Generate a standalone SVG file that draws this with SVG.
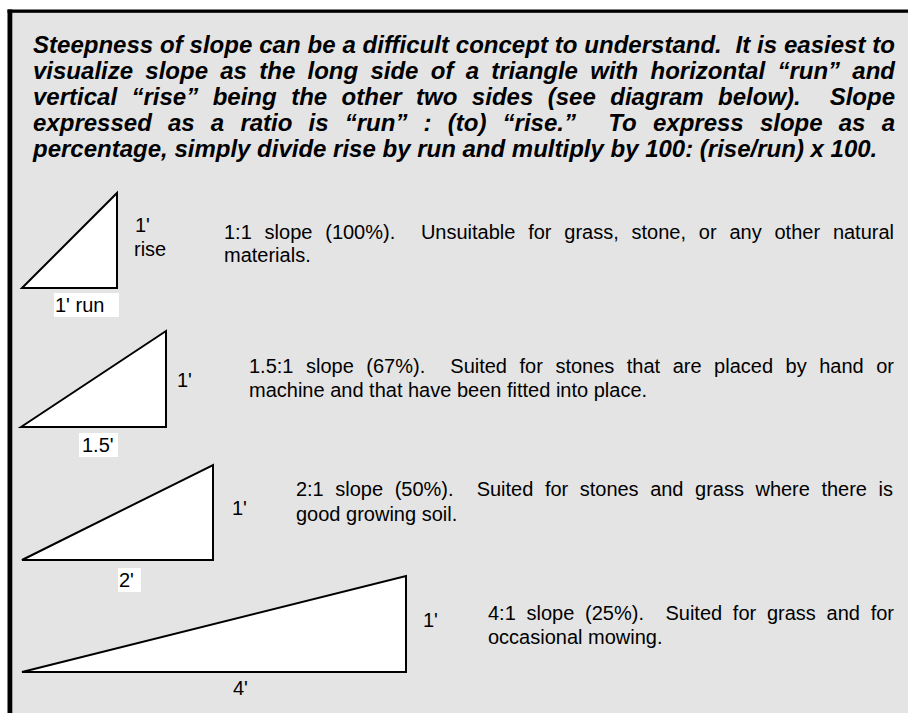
<svg xmlns="http://www.w3.org/2000/svg" width="908" height="713" viewBox="0 0 908 713">
<style>
.hd{font-family:"Liberation Sans",Arial,sans-serif;font-size:24px;font-weight:bold;font-style:italic;fill:#000;white-space:pre}
.tx{font-family:"Liberation Sans",Arial,sans-serif;font-size:20px;fill:#000;white-space:pre}
.tri{fill:#fff;stroke:#000;stroke-width:2;stroke-linejoin:miter}
.lbl{fill:#fff}
</style>
<rect x="0" y="0" width="908" height="713" fill="#fff"/>
<rect x="12" y="12" width="896" height="701" fill="#e4e4e4"/>
<rect x="7.5" y="9.5" width="900.5" height="3.3" fill="#000"/>
<rect x="7.5" y="9.5" width="4.8" height="703.5" fill="#000"/>

<g id="intro">
<text class="hd" x="33" y="53" word-spacing="0.2" textLength="862" lengthAdjust="spacing">Steepness of slope can be a difficult concept to understand.  It is easiest to</text>
<text class="hd" x="33" y="79" word-spacing="5.6" textLength="862" lengthAdjust="spacing">visualize slope as the long side of a triangle with horizontal “run” and</text>
<text class="hd" x="33" y="105" word-spacing="7.8" textLength="862" lengthAdjust="spacing">vertical “rise” being the other two sides (see diagram below).  Slope</text>
<text class="hd" x="33" y="131" word-spacing="9.5" textLength="862" lengthAdjust="spacing">expressed as a ratio is “run” : (to) “rise.”  To express slope as a</text>
<text class="hd" x="33" y="157">percentage, simply divide rise by run and multiply by 100: (rise/run) x 100.</text>
</g>

<g id="slope-1-1">
<polygon class="tri" points="22,288 117,193 117,288"/>
<rect class="lbl" x="54" y="293" width="65" height="24"/>
<text class="tx" x="55" y="312">1' run</text>
<text class="tx" x="135" y="232">1'</text>
<text class="tx" x="134" y="256">rise</text>
<text class="tx" x="224" y="238.5" word-spacing="7.3" textLength="670" lengthAdjust="spacing">1:1 slope (100%).  Unsuitable for grass, stone, or any other natural</text>
<text class="tx" x="224" y="261.5">materials.</text>
</g>

<g id="slope-1-5-1">
<polygon class="tri" points="21,427 166,331 166,427"/>
<rect class="lbl" x="79" y="433" width="39" height="24"/>
<text class="tx" x="82" y="452">1.5'</text>
<text class="tx" x="177" y="387">1'</text>
<text class="tx" x="249" y="373" word-spacing="7" textLength="645" lengthAdjust="spacing">1.5:1 slope (67%).  Suited for stones that are placed by hand or</text>
<text class="tx" x="249" y="397">machine and that have been fitted into place.</text>
</g>

<g id="slope-2-1">
<polygon class="tri" points="22,560 213,465 213,560"/>
<rect class="lbl" x="118" y="568" width="23" height="24"/>
<text class="tx" x="119" y="587">2'</text>
<text class="tx" x="232" y="515">1'</text>
<text class="tx" x="296" y="495.5" word-spacing="6.1" textLength="597" lengthAdjust="spacing">2:1 slope (50%).  Suited for stones and grass where there is</text>
<text class="tx" x="296" y="521">good growing soil.</text>
</g>

<g id="slope-4-1">
<polygon class="tri" points="22,672 406,576 406,672"/>
<text class="tx" x="233" y="695">4'</text>
<text class="tx" x="423" y="627">1'</text>
<text class="tx" x="488" y="620" word-spacing="5.2" textLength="406" lengthAdjust="spacing">4:1 slope (25%).  Suited for grass and for</text>
<text class="tx" x="488" y="643.5">occasional mowing.</text>
</g>
</svg>
